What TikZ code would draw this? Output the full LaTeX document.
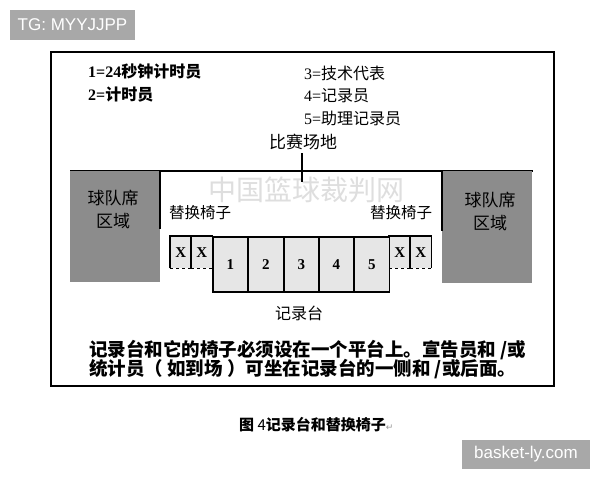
\documentclass[tikz,border=0pt]{standalone}
\usepackage{fontspec}
\setmainfont{Liberation Serif}
\newfontfamily\cjk{Noto Sans CJK SC}
\newfontfamily\arial{Liberation Sans}
\newfontfamily\djv{DejaVu Sans}
\definecolor{benchgray}{RGB}{140,140,140}
\definecolor{taggray}{RGB}{168,168,168}
\definecolor{seatfill}{RGB}{230,230,230}
\begin{document}
\begin{tikzpicture}[x=1pt,y=-1pt,
  legend/.style={anchor=west, inner sep=0pt, font=\fontsize{16}{18}\selectfont},
  cjklabel/.style={inner sep=0pt, font=\cjk\fontsize{15.5}{18}\selectfont},
  benchtext/.style={align=center, inner sep=0pt, font=\cjk\fontsize{17}{23}\selectfont},
  xchair/.style={fill=seatfill, minimum width=21pt, minimum height=32pt, anchor=north west, inner sep=0pt, font=\bfseries\fontsize{15}{15}\selectfont},
  seat/.style={draw, line width=1.6pt, fill=seatfill, minimum width=35pt, minimum height=55pt, anchor=north west, inner sep=0pt, font=\bfseries\fontsize{15}{15}\selectfont},
  tag/.style={fill=taggray, text=white, inner sep=0pt, font=\arial\fontsize{17}{20}\selectfont},
  para/.style={anchor=west, inner sep=0pt, font=\cjk\bfseries\fontsize{18.5}{22}\selectfont}
]
\useasboundingbox[fill=white] (0,0) rectangle (600,480);

% watermark tags
\node[tag, minimum width=125pt, minimum height=30pt] (tg) at (72.5,25) {TG: MYYJJPP};
\node[tag, minimum width=128pt, minimum height=29pt] (bl) at (526,454.5) {basket-ly.com};

% frame
\draw[line width=1.5pt] (51,52) rectangle (554,386);

% faint watermark
\node[text=black!13, inner sep=0pt, font=\cjk\fontsize{28}{28}\selectfont] (wm) at (306,190) {中国篮球裁判网};

% legend
\node[legend] (l1) at (88,72) {\textbf{1=24}\cjk\bfseries 秒钟计时员};
\node[legend] (l2) at (88,95) {\textbf{2=}\cjk\bfseries 计时员};
\node[legend] (l3) at (304,73) {3=\cjk 技术代表};
\node[legend] (l4) at (304,96) {4=\cjk 记录员};
\node[legend] (l5) at (304,118) {5=\cjk 助理记录员};

% field
\node[cjklabel, font=\cjk\fontsize{17}{20}\selectfont] (field) at (303,142) {比赛场地};
\coordinate (tick) at (302,182);
\draw[line width=1.4pt] (field.south) ++(-1,3) -- (tick);

% sideline
\draw[line width=2pt] (70,171) -- (533,171);

% team benches
\fill[benchgray] (70,171) rectangle (160,282);
\draw[line width=1.8pt] (160,171) -- (160,229);
\node[benchtext] (b1) at (113,209.5) {球队席\\区域};
\fill[benchgray] (442,171) rectangle (532,283);
\draw[line width=1.8pt] (442,171) -- (442,231);
\node[benchtext] (b2) at (490,211) {球队席\\区域};

% substitution chairs labels
\node[cjklabel] (sc1) at (200,213) {替换椅子};
\node[cjklabel] (sc2) at (401,213) {替换椅子};

% X chairs
\foreach \nm/\xx in {xa/170, xb/191, xc/389, xd/410}{
  \node[xchair] (\nm) at (\xx,236) {X};
  \draw[line width=1.4pt] (\nm.south west) -- (\nm.north west) -- (\nm.north east) -- (\nm.south east);
  \draw[line width=1.2pt, dashed] (\nm.south west) -- (\nm.south east);
}

% scorer's table seats
\node[seat] (s1) at (212,236) {1};
\node[seat] (s2) at (247.5,236) {2};
\node[seat] (s3) at (283,236) {3};
\node[seat] (s4) at (318,236) {4};
\node[seat] (s5) at (353.5,236) {5};

\node[cjklabel, font=\cjk\fontsize{16}{18}\selectfont] (table) at (299,313) {记录台};

% note
\node[para] (p1) at (89,350) {记录台和它的椅子必须设在一个平台上。宣告员和 /或};
\node[para] (p2) at (89,369) {统计员（ 如到场 ）可坐在记录台的一侧和 /或后面。};

% caption
\node[anchor=west, inner sep=0pt, font=\cjk\bfseries\fontsize{15}{18}\selectfont] (cap) at (239,425) {图 {\mdseries 4}记录台和替换椅子{\djv\mdseries\fontsize{9}{9}\selectfont\color{black!40}↵}};
\end{tikzpicture}
\end{document}
